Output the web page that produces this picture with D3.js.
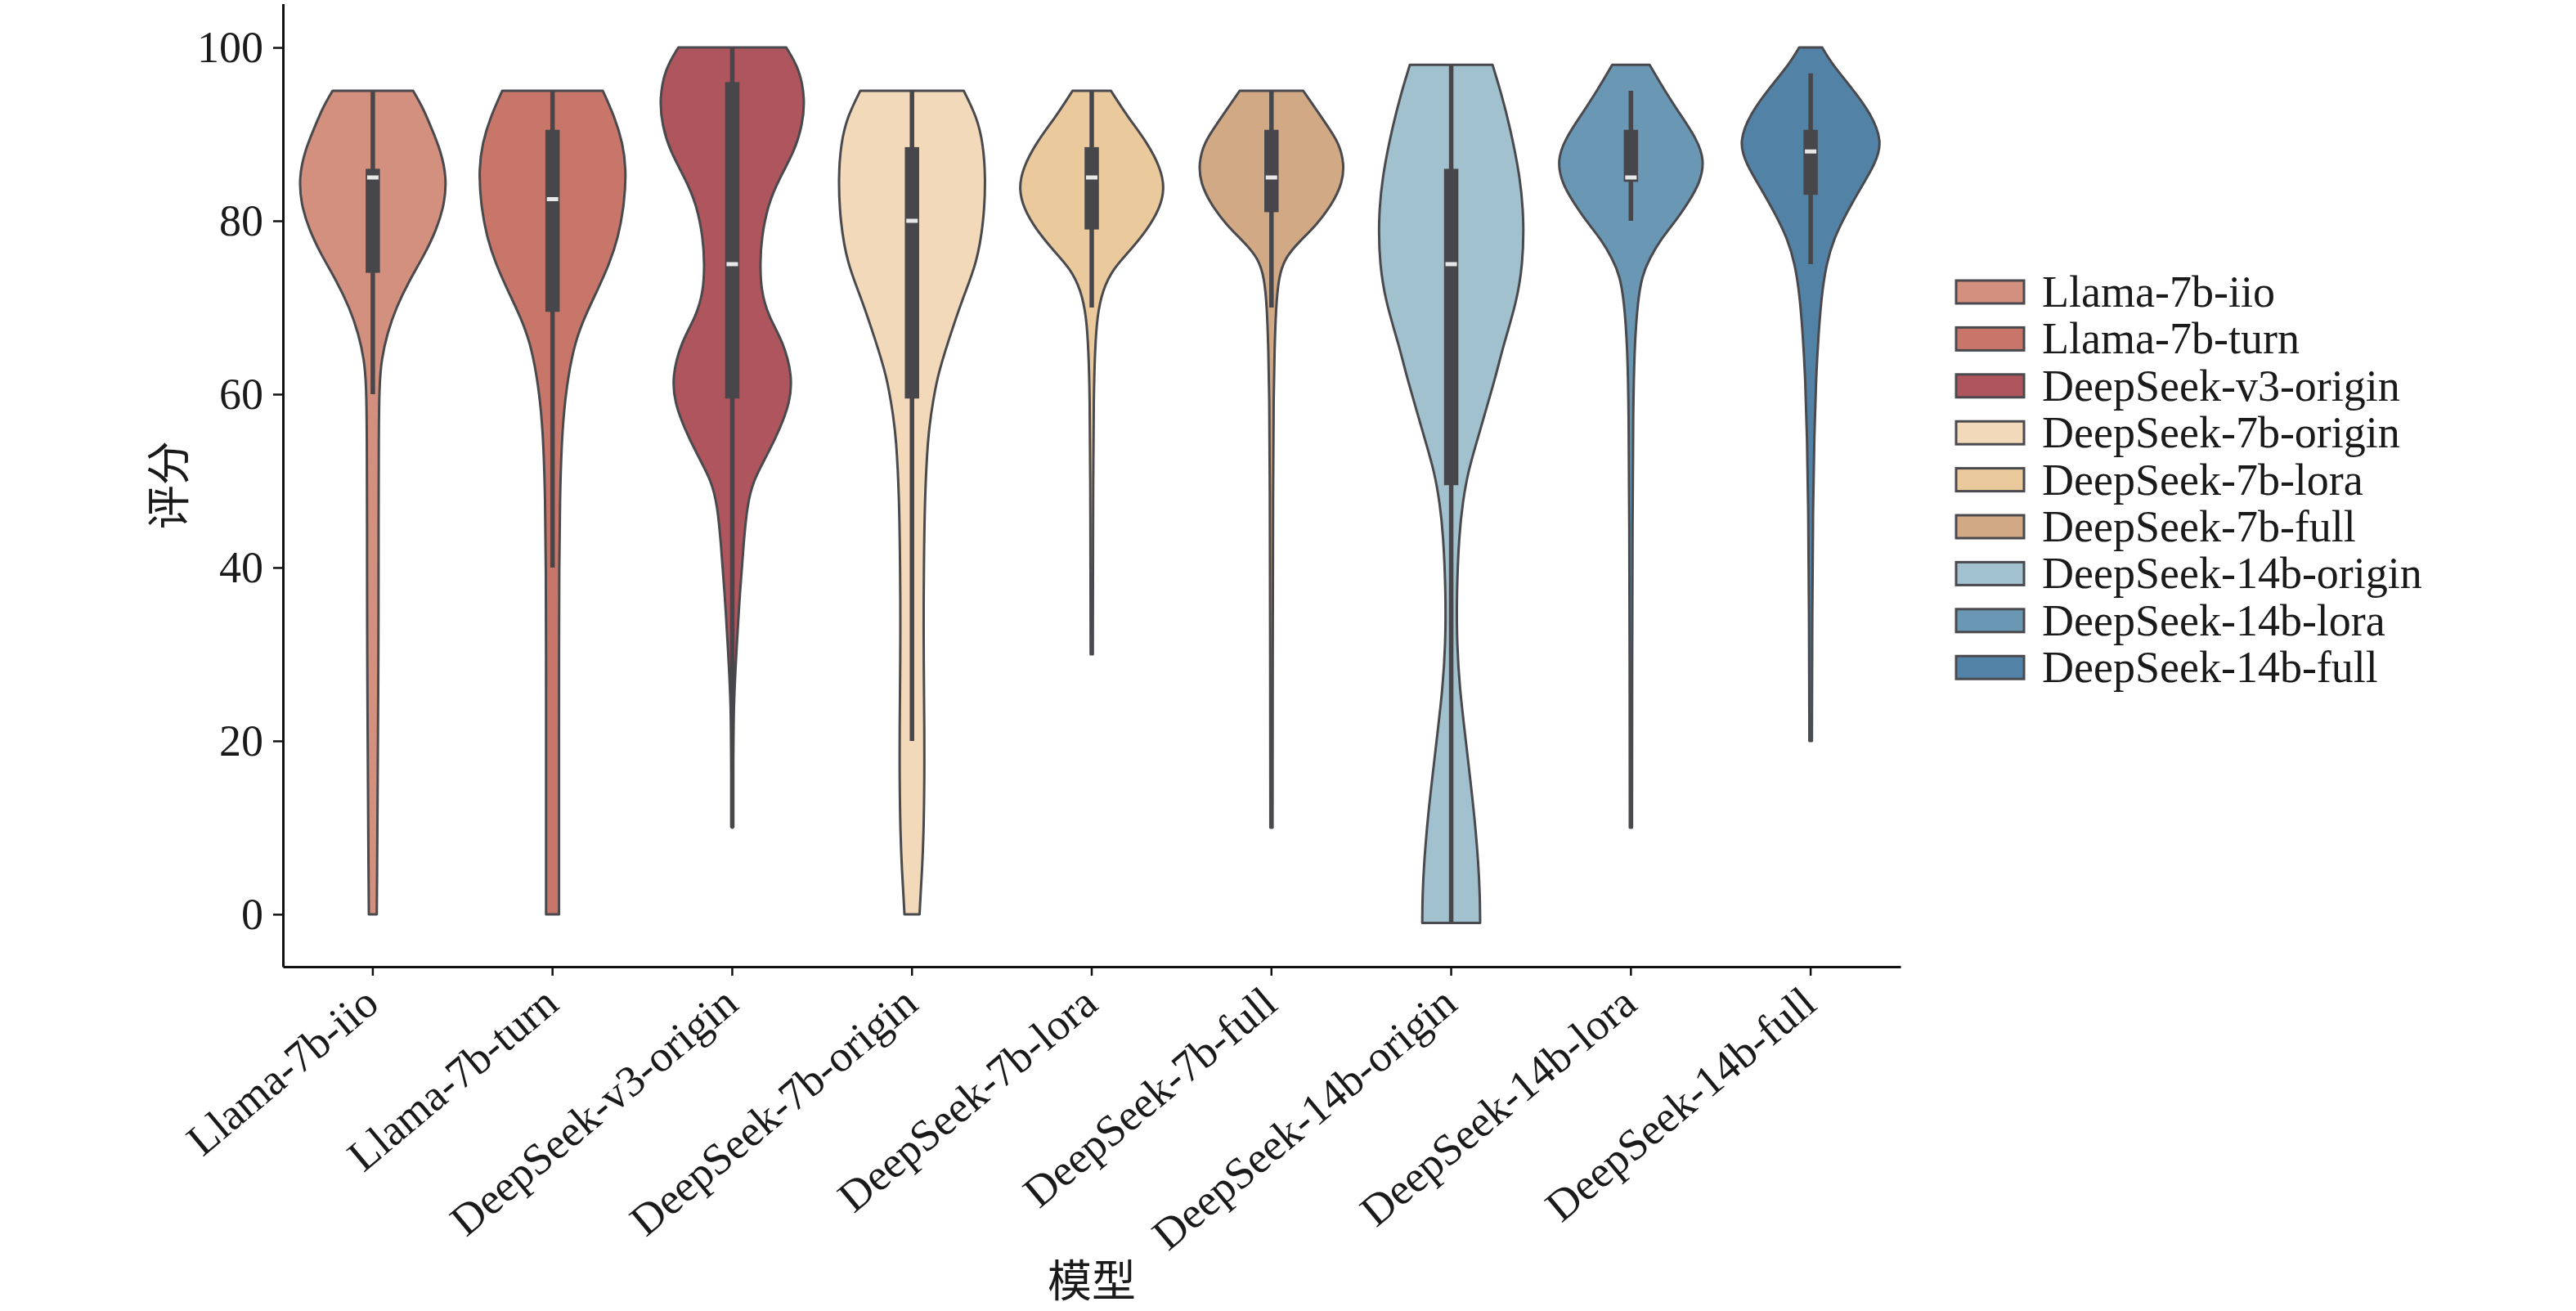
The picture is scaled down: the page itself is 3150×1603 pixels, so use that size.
<!DOCTYPE html>
<html>
<head>
<meta charset="utf-8">
<script src="https://cdn.jsdelivr.net/npm/d3@7"></script>
<style>
  body { margin: 0; background: #fff; }
</style>
</head>
<body>
<div id="chart"></div>
<script>
// --------------------------------------
//  Data
// --------------------------------------

const models = [
  "Llama-7b-iio", "Llama-7b-turn", "DeepSeek-v3-origin",
  "DeepSeek-7b-origin", "DeepSeek-7b-lora", "DeepSeek-7b-full",
  "DeepSeek-14b-origin", "DeepSeek-14b-lora", "DeepSeek-14b-full"
];

const fillColors = [
  "#d4907f", "#c8766a", "#af555d",
  "#f1d9b9", "#eaca9d", "#d1a985",
  "#a2c1cf", "#6a97b3", "#5282a6"
];

const yTicks = [0, 20, 40, 60, 80, 100];

// inner box statistics
const whiskerLow  = [60, 40, 10, 20, 70, 70, -1, 80, 75];
const quartile1   = [74, 69.5, 59.5, 59.5, 79, 81, 49.5, 84.5, 83];
const medians     = [85, 82.5, 75, 80, 85, 85, 75, 85, 88];
const quartile3   = [86, 90.5, 96, 88.5, 88.5, 90.5, 86, 90.5, 90.5];
const whiskerHigh = [95, 95, 100, 95, 95, 95, 98, 95, 97];

// violin outline: [score, half width as share of the band], top to bottom
const densityProfiles = [
  [[95,0.224],[93,0.28],[91,0.32],[88,0.38],[85,0.41],[82,0.40],[79,0.355],[76,0.285],[73,0.2],[70,0.13],[67,0.08],[64,0.048],[61,0.036],[55,0.033],[45,0.032],[35,0.032],[25,0.03],[15,0.027],[5,0.024],[0,0.022]],
  [[95,0.28],[92,0.345],[89,0.39],[86,0.41],[82,0.40],[78,0.365],[75,0.315],[72,0.25],[69,0.18],[66,0.125],[62,0.086],[58,0.063],[54,0.05],[48,0.041],[40,0.037],[30,0.036],[20,0.036],[10,0.036],[0,0.036]],
  [[100,0.30],[97.5,0.375],[94,0.405],[91,0.39],[88,0.345],[85,0.265],[82,0.2],[78,0.162],[75,0.155],[72,0.16],[69,0.2],[66,0.285],[62,0.335],[59,0.32],[56,0.265],[53,0.195],[50,0.115],[47,0.082],[43,0.064],[37,0.042],[30,0.022],[25,0.01],[20,0.005],[10,0.003]],
  [[95,0.288],[92,0.36],[89,0.395],[85,0.41],[80,0.40],[75,0.36],[71,0.28],[66,0.2],[62,0.14],[58,0.108],[55,0.088],[48,0.071],[40,0.066],[33,0.064],[25,0.067],[18,0.07],[10,0.066],[5,0.056],[2,0.047],[0,0.042]],
  [[95,0.107],[92,0.2],[89,0.31],[86,0.385],[83.7,0.405],[81.5,0.38],[79,0.31],[76.5,0.21],[74.5,0.12],[72,0.06],[69,0.03],[65,0.018],[60,0.011],[50,0.008],[40,0.007],[30,0.006]],
  [[95,0.177],[91,0.31],[89,0.375],[86.6,0.405],[84.4,0.395],[82,0.34],[79.5,0.25],[77.5,0.15],[75.7,0.075],[73.5,0.04],[70,0.025],[65,0.017],[60,0.012],[50,0.009],[30,0.007],[10,0.006]],
  [[98,0.23],[94.6,0.28],[91,0.325],[85,0.385],[80,0.405],[75,0.398],[70.7,0.365],[65.6,0.29],[62,0.247],[58.3,0.195],[54.7,0.145],[51,0.093],[47.5,0.064],[43.8,0.044],[37,0.03],[31,0.032],[26,0.048],[21.5,0.073],[16.3,0.102],[11.2,0.13],[6,0.151],[2,0.16],[-1,0.161]],
  [[98,0.104],[95.3,0.18],[92.4,0.27],[89.5,0.365],[87,0.41],[84.4,0.385],[82.2,0.322],[80,0.25],[78,0.171],[75.7,0.104],[73.6,0.061],[70.7,0.038],[65.6,0.02],[58,0.012],[45,0.009],[30,0.007],[10,0.006]],
  [[100,0.064],[98.2,0.115],[95.3,0.23],[92.4,0.335],[89.1,0.40],[86.6,0.36],[83.7,0.276],[80.8,0.197],[78,0.13],[75,0.087],[71.4,0.061],[67,0.044],[62,0.03],[55,0.02],[47,0.013],[35,0.009],[20,0.007]]
];

// --------------------------------------
//  Canvas
// --------------------------------------

const width = 3150;
const height = 1603;
const plot = {left: 346, right: 2324, top: 4.5, bottom: 1182};

const serif = "'Liberation Serif', 'Times New Roman', serif";
const cjk = "'Noto Sans CJK SC', sans-serif";
const fontSize = 54;
const edgeColor = "#4a4a4e";
const boxColor = "#46464b";

const svg = d3.select("#chart")
  .append("svg")
    .attr("width", width)
    .attr("height", height)
    .attr("viewBox", `0 0 ${width} ${height}`);

// --------------------------------------
//  Scales
// --------------------------------------

const x = d3.scaleBand()
  .domain(models)
  .range([plot.left, plot.right])
  .padding(0);

const y = d3.scaleLinear()
  .domain([-6.05, 105.05])
  .range([plot.bottom, plot.top]);

const bw = x.bandwidth();

// --------------------------------------
//  Violins
// --------------------------------------

const violinArea = d3.area()
  .y(d => y(d[0]))
  .x0(d => -d[1] * bw)
  .x1(d => d[1] * bw)
  .curve(d3.curveBasis);

const violins = svg.append("g")
  .selectAll("g")
  .data(models)
  .join("g")
    .attr("transform", d => `translate(${x(d) + bw / 2}, 0)`);

violins.append("path")
  .attr("d", (d, i) => violinArea(densityProfiles[i]))
  .attr("fill", (d, i) => fillColors[i])
  .attr("stroke", edgeColor)
  .attr("stroke-width", 3)
  .attr("stroke-linejoin", "round");

// whiskers
violins.append("line")
  .attr("x1", 0).attr("x2", 0)
  .attr("y1", (d, i) => y(whiskerHigh[i]))
  .attr("y2", (d, i) => y(whiskerLow[i]))
  .attr("stroke", boxColor)
  .attr("stroke-width", 5.5);

// box
violins.append("rect")
  .attr("x", -8.75)
  .attr("width", 17.5)
  .attr("y", (d, i) => y(quartile3[i]))
  .attr("height", (d, i) => y(quartile1[i]) - y(quartile3[i]))
  .attr("fill", boxColor);

// median
violins.append("rect")
  .attr("x", -7)
  .attr("width", 14)
  .attr("y", (d, i) => y(medians[i]) - 2.5)
  .attr("height", 5)
  .attr("fill", "#e8e8e8");

// --------------------------------------
//  Axes
// --------------------------------------

const yAxis = svg.append("g")
  .attr("transform", `translate(${plot.left}, 0)`)
  .call(d3.axisLeft(y).tickValues(yTicks).tickSize(12).tickSizeOuter(0).tickPadding(12));

yAxis.select(".domain").attr("stroke", "#111").attr("stroke-width", 3);
yAxis.selectAll(".tick line").attr("stroke", "#111").attr("stroke-width", 2.5);
yAxis.selectAll(".tick text")
  .attr("font-family", serif)
  .attr("font-size", fontSize)
  .attr("fill", "#1a1a1a");

const xAxis = svg.append("g")
  .attr("transform", `translate(0, ${plot.bottom})`)
  .call(d3.axisBottom(x).tickSize(11).tickSizeOuter(0).tickFormat(""));

xAxis.select(".domain").attr("stroke", "#111").attr("stroke-width", 3);
xAxis.selectAll(".tick line").attr("stroke", "#111").attr("stroke-width", 2.5);

svg.append("g")
  .selectAll("text")
  .data(models)
  .join("text")
    .attr("transform", d => `translate(${x(d) + bw / 2 + 10}, ${plot.bottom + 50}) rotate(-40)`)
    .attr("text-anchor", "end")
    .attr("font-family", serif)
    .attr("font-size", fontSize)
    .attr("fill", "#1a1a1a")
    .text(d => d);

// axis titles
svg.append("text")
  .attr("transform", `translate(202, ${(plot.top + plot.bottom) / 2}) rotate(-90)`)
  .attr("text-anchor", "middle")
  .attr("dominant-baseline", "central")
  .attr("font-family", cjk)
  .attr("font-size", fontSize)
  .attr("fill", "#1a1a1a")
  .text("评分");

svg.append("text")
  .attr("x", (plot.left + plot.right) / 2)
  .attr("y", 1562)
  .attr("text-anchor", "middle")
  .attr("dominant-baseline", "central")
  .attr("font-family", cjk)
  .attr("font-size", fontSize)
  .attr("fill", "#1a1a1a")
  .text("模型");

// --------------------------------------
//  Legend
// --------------------------------------

const legend = svg.append("g")
  .selectAll("g")
  .data(models)
  .join("g")
    .attr("transform", (d, i) => `translate(2392, ${357 + i * 57.4})`);

legend.append("rect")
  .attr("x", 0)
  .attr("y", -14)
  .attr("width", 83)
  .attr("height", 28)
  .attr("fill", (d, i) => fillColors[i])
  .attr("stroke", edgeColor)
  .attr("stroke-width", 3);

legend.append("text")
  .attr("x", 105)
  .attr("y", 18)
  .attr("font-family", serif)
  .attr("font-size", fontSize)
  .attr("fill", "#1a1a1a")
  .text(d => d);
</script>
</body>
</html>
